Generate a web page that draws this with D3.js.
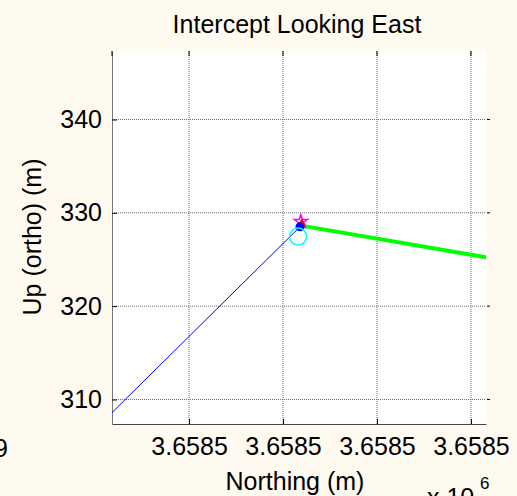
<!DOCTYPE html>
<html>
<head>
<meta charset="utf-8">
<script src="https://cdn.jsdelivr.net/npm/d3@7.9.0/dist/d3.min.js"></script>
<style>
  body { margin: 0; background: #fffaf0; }
  svg { display: block; font-family: "Liberation Sans", Arial, sans-serif; }
</style>
</head>
<body>
<svg id="chart" width="517" height="496"></svg>
<script>
// data (northing m, up m)
const xTicks = [3658490, 3658500, 3658510, 3658520];
const yTicks = [310, 320, 330, 340];
const approachN = [3658480, 3658501.8];
const approachU = [306.8, 328.5];
const interceptN = [3658502.1, 3658521.8];
const interceptU = [328.6, 325.2];
const starPt = [3658501.9, 329.05];
const redPt = [3658502.0, 328.7];
const dotPt = [3658501.8, 328.5];
const ringPt = [3658501.6, 327.45];

const svg = d3.select('#chart');
const plotL = 112, plotR = 486, plotT = 51, plotB = 424;

const x = d3.scaleLinear().domain([3658481.8, 3658521.6]).range([plotL, plotR]);
const y = d3.scaleLinear().domain([307.37, 347.34]).range([plotB, plotT]);

svg.append('rect').attr('width', 517).attr('height', 496).attr('fill', '#fffaf0');
svg.append('rect').attr('x', plotL).attr('y', plotT)
  .attr('width', plotR - plotL).attr('height', plotB - plotT).attr('fill', '#fff');

svg.append('clipPath').attr('id', 'clip')
  .append('rect').attr('x', plotL).attr('y', plotT)
  .attr('width', plotR - plotL).attr('height', plotB - plotT);

// grid
const grid = svg.append('g').attr('stroke', '#6e6e6e').attr('stroke-dasharray', '1,1');
xTicks.forEach(t => {
  grid.append('line').attr('x1', x(t)).attr('x2', x(t)).attr('y1', plotT).attr('y2', plotB);
});
yTicks.forEach(t => {
  grid.append('line').attr('x1', plotL).attr('x2', plotR).attr('y1', y(t)).attr('y2', y(t));
});

// axes (bottom + left with d3, inward ticks)
const fmt = v => (v / 1e6).toFixed(4);
const xAxis = svg.append('g').attr('transform', `translate(0,${plotB})`)
  .call(d3.axisBottom(x).tickValues(xTicks).tickFormat(fmt).tickSize(-5).tickSizeOuter(0).tickPadding(13));
const yAxis = svg.append('g').attr('transform', `translate(${plotL},0)`)
  .call(d3.axisLeft(y).tickValues(yTicks).tickSize(-5).tickSizeOuter(0).tickPadding(10));
[xAxis, yAxis].forEach(g => {
  g.selectAll('text').attr('font-size', 25).attr('fill', '#000')
    .attr('font-family', '"Liberation Sans", Arial, sans-serif');
  g.selectAll('.tick line').attr('stroke', '#000');
});
xAxis.select('.domain').attr('stroke', '#444');
yAxis.select('.domain').attr('stroke', '#777');
xAxis.selectAll('text').attr('dy', '0.71em');

// ticks on top and right edges
const edge = svg.append('g').attr('stroke', '#000');
[x.domain()[0]].concat(xTicks).forEach(t => {
  edge.append('line').attr('x1', x(t)).attr('x2', x(t)).attr('y1', plotT).attr('y2', plotT + 5);
});
yTicks.forEach(t => {
  edge.append('line').attr('x1', plotR + 1).attr('x2', plotR + 4).attr('y1', y(t)).attr('y2', y(t));
});

// lines
const plot = svg.append('g').attr('clip-path', 'url(#clip)');
const line = d3.line().x(d => x(d[0])).y(d => y(d[1]));
plot.append('path').datum(approachN.map((n, i) => [n, approachU[i]]))
  .attr('d', line).attr('fill', 'none').attr('stroke', '#0000ff').attr('stroke-width', 1);
plot.append('path').datum(interceptN.map((n, i) => [n, interceptU[i]]))
  .attr('d', line).attr('fill', 'none').attr('stroke', '#00ff00').attr('stroke-width', 4);

// markers
plot.append('path').attr('d', d3.symbol(d3.symbolStar, 55)())
  .attr('transform', `translate(${x(starPt[0])},${y(starPt[1])})`)
  .attr('fill', 'none').attr('stroke', '#ff00ff').attr('stroke-width', 1.5);
plot.append('path').attr('d', d3.symbol(d3.symbolDiamond, 50)())
  .attr('transform', `translate(${x(redPt[0])},${y(redPt[1])})`)
  .attr('fill', '#ff0000');
plot.append('circle').attr('cx', x(dotPt[0])).attr('cy', y(dotPt[1])).attr('r', 4.5)
  .attr('fill', '#0000ff');
plot.append('circle').attr('cx', x(ringPt[0])).attr('cy', y(ringPt[1])).attr('r', 8.5)
  .attr('fill', 'none').attr('stroke', '#00ffff').attr('stroke-width', 1.5);

// labels
svg.append('text').attr('x', 297).attr('y', 33).attr('text-anchor', 'middle')
  .attr('font-size', 25).text('Intercept Looking East');
svg.append('text').attr('x', 295).attr('y', 490).attr('text-anchor', 'middle')
  .attr('font-size', 25).text('Northing (m)');
svg.append('text').attr('transform', 'translate(41,237) rotate(-90)')
  .attr('text-anchor', 'middle').attr('font-size', 25).text('Up (ortho) (m)');
svg.append('text').attr('x', 427).attr('y', 506).attr('font-size', 25).text('x 10');
svg.append('text').attr('x', 480).attr('y', 489).attr('font-size', 17).text('6');
svg.append('text').attr('x', 8).attr('y', 457).attr('text-anchor', 'end')
  .attr('font-size', 25).text('9');
</script>
</body>
</html>
